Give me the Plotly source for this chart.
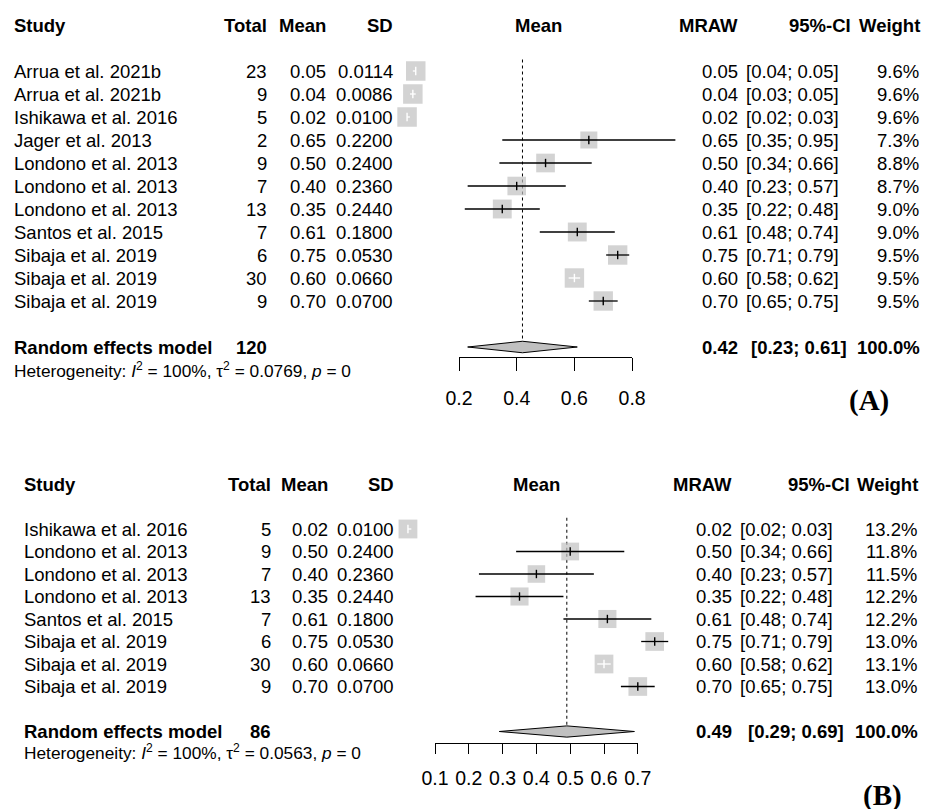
import plotly.graph_objects as go

W, H = 933, 809

# ---------------- data: panel A ----------------
studies_a = ["Arrua et al. 2021b", "Arrua et al. 2021b", "Ishikawa et al. 2016", "Jager et al. 2013",
             "Londono et al. 2013", "Londono et al. 2013", "Londono et al. 2013", "Santos et al. 2015",
             "Sibaja et al. 2019", "Sibaja et al. 2019", "Sibaja et al. 2019"]
total_a = [23, 9, 5, 2, 9, 7, 13, 7, 6, 30, 9]
mean_a = [0.05, 0.04, 0.02, 0.65, 0.50, 0.40, 0.35, 0.61, 0.75, 0.60, 0.70]
sd_a = [0.0114, 0.0086, 0.0100, 0.2200, 0.2400, 0.2360, 0.2440, 0.1800, 0.0530, 0.0660, 0.0700]
lo_a = [0.04, 0.03, 0.02, 0.35, 0.34, 0.23, 0.22, 0.48, 0.71, 0.58, 0.65]
hi_a = [0.05, 0.05, 0.03, 0.95, 0.66, 0.57, 0.48, 0.74, 0.79, 0.62, 0.75]
weight_a = [9.6, 9.6, 9.6, 7.3, 8.8, 8.7, 9.0, 9.0, 9.5, 9.5, 9.5]
summary_a = {"total": 120, "est": 0.42, "lo": 0.23, "hi": 0.61, "w": "100.0%",
             "I2": "100%", "tau2": "0.0769", "p": "0"}
ticks_a = [0.2, 0.4, 0.6, 0.8]

# ---------------- data: panel B ----------------
studies_b = ["Ishikawa et al. 2016", "Londono et al. 2013", "Londono et al. 2013", "Londono et al. 2013",
             "Santos et al. 2015", "Sibaja et al. 2019", "Sibaja et al. 2019", "Sibaja et al. 2019"]
total_b = [5, 9, 7, 13, 7, 6, 30, 9]
mean_b = [0.02, 0.50, 0.40, 0.35, 0.61, 0.75, 0.60, 0.70]
sd_b = [0.0100, 0.2400, 0.2360, 0.2440, 0.1800, 0.0530, 0.0660, 0.0700]
lo_b = [0.02, 0.34, 0.23, 0.22, 0.48, 0.71, 0.58, 0.65]
hi_b = [0.03, 0.66, 0.57, 0.48, 0.74, 0.79, 0.62, 0.75]
weight_b = [13.2, 11.8, 11.5, 12.2, 12.2, 13.0, 13.1, 13.0]
summary_b = {"total": 86, "est": 0.49, "lo": 0.29, "hi": 0.69, "w": "100.0%",
             "I2": "100%", "tau2": "0.0563", "p": "0"}
ticks_b = [0.1, 0.2, 0.3, 0.4, 0.5, 0.6, 0.7]

FONT = "Liberation Sans, Arial, Helvetica, sans-serif"
SERIF = "Liberation Serif, Times New Roman, serif"
BOX = "#C0C0C0"
TXT = "#000000"
FS = 18.5


def px(x):
    return x / W


def py(y):
    return 1 - y / H


fig = go.Figure()
annotations = []

geo_a = dict(xa="x", ya="y", xt="x3", top=0, bottom=404, row0=71, dy=23,
             t0_px=459, scale=288.5, axis_y=357, ticklen=13, standoff=11,
             c_study=12, c_total=269, c_mean=328, c_sd=395, c_plot=538,
             c_mraw=740, c_ci=841, c_ci_s=849, c_ci_h=853, c_w=921, c_w_h=922,
             box_max=19.5, het_dy=0.98, label="(A)", label_xy=(869, 401))
geo_b = dict(xa="x2", ya="y2", xt="x4", top=405, bottom=809, row0=529, dy=22.5,
             t0_px=435, scale=338, axis_y=743, ticklen=10, standoff=8,
             c_study=22, c_total=273, c_mean=330, c_sd=396, c_plot=536,
             c_mraw=734, c_ci=835, c_ci_s=846, c_ci_h=852, c_w=919, c_w_h=920,
             box_max=18.8, het_dy=0.93, label="(B)", label_xy=(882, 795))


def ann(x, y, text, ya, anchor="right", size=FS, family=FONT):
    annotations.append(dict(x=px(x), y=y, xref="paper", yref=ya, text=text, showarrow=False,
                            xanchor=anchor, yanchor="middle", font=dict(family=family, size=size, color=TXT)))


def panel(g, studies, total, mean, sd, lo, hi, weight, summ, ticks):
    xa, ya, xt = g["xa"], g["ya"], g["xt"]
    n = len(studies)
    rows = list(range(n))
    srow = n + 1
    est = summ["est"]
    # dotted line at summary estimate
    fig.add_trace(go.Scatter(x=[est, est], y=[-0.5, srow], mode="lines",
                             line=dict(color="black", width=1, dash="dot"),
                             xaxis=xa, yaxis=ya, hoverinfo="skip", showlegend=False))
    wmax = max(weight)
    sizes = [g["box_max"] * (w / wmax) ** 0.5 for w in weight]
    fig.add_trace(go.Scatter(x=mean, y=rows, mode="markers",
                             marker=dict(symbol="square", size=sizes, color=BOX, line=dict(width=0)),
                             xaxis=xa, yaxis=ya, hoverinfo="skip", showlegend=False))
    inside = [(h - l) * g["scale"] < s for l, h, s in zip(lo, hi, sizes)]
    for col, flag in (("black", False), ("white", True)):
        xs, ys = [], []
        for i in rows:
            if inside[i] == flag:
                xs += [lo[i], hi[i], None]
                ys += [i, i, None]
        fig.add_trace(go.Scatter(x=xs, y=ys, mode="lines", line=dict(color=col, width=1.3),
                                 xaxis=xa, yaxis=ya, hoverinfo="skip", showlegend=False))
    fig.add_trace(go.Scatter(x=mean, y=rows, mode="markers",
                             marker=dict(symbol="line-ns", size=6,
                                         line=dict(color=["white" if f else "black" for f in inside], width=1.4)),
                             xaxis=xa, yaxis=ya, hoverinfo="skip", showlegend=False))
    # diamond
    h = 0.25
    fig.add_trace(go.Scatter(x=[summ["lo"], est, summ["hi"], est, summ["lo"]],
                             y=[srow, srow - h, srow, srow + h, srow], mode="lines", fill="toself",
                             fillcolor=BOX, line=dict(color="black", width=1),
                             xaxis=xa, yaxis=ya, hoverinfo="skip", showlegend=False))
    # invisible trace to carry the tick axis
    fig.add_trace(go.Scatter(x=[ticks[0], ticks[-1]], y=[srow, srow], mode="markers",
                             marker=dict(opacity=0), xaxis=xt, yaxis=ya, hoverinfo="skip", showlegend=False))

    # axes
    d0, d1 = 360, 730
    t0 = ticks[0]
    xr = [t0 + (d0 - g["t0_px"]) / g["scale"], t0 + (d1 - g["t0_px"]) / g["scale"]]
    yr = [(g["bottom"] - g["row0"]) / g["dy"], (g["top"] - g["row0"]) / g["dy"]]
    ax_key = "xaxis" if xa == "x" else "xaxis" + xa[1:]
    ay_key = "yaxis" if ya == "y" else "yaxis" + ya[1:]
    xt_key = "xaxis" + xt[1:]
    t1_px = g["t0_px"] + (ticks[-1] - t0) * g["scale"]
    fig.update_layout(**{
        ax_key: dict(domain=[px(d0), px(d1)], range=xr, visible=False, anchor=ya, fixedrange=True,
                     automargin=False),
        ay_key: dict(domain=[py(g["bottom"]), py(g["top"])], range=yr, visible=False, anchor=xa,
                     fixedrange=True, automargin=False),
        xt_key: dict(domain=[px(g["t0_px"]), px(t1_px)], range=[ticks[0], ticks[-1]], anchor="free",
                     position=py(g["axis_y"]), side="bottom", showline=True, linecolor="black", linewidth=1,
                     ticks="outside", ticklen=g["ticklen"], tickwidth=1, tickcolor="black",
                     tickvals=ticks, ticktext=[f"{t:.1f}" for t in ticks], showgrid=False, zeroline=False,
                     tickfont=dict(family=FONT, size=19.5, color=TXT), ticklabelstandoff=g["standoff"],
                     fixedrange=True, automargin=False),
    })

    # header row
    hr = -2
    ann(g["c_study"], hr, "<b>Study</b>", ya, "left")
    ann(g["c_total"], hr, "<b>Total</b>", ya)
    ann(g["c_mean"], hr, "<b>Mean</b>", ya)
    ann(g["c_sd"], hr, "<b>SD</b>", ya)
    ann(g["c_plot"], hr, "<b>Mean</b>", ya, "center")
    ann(g["c_mraw"], hr, "<b>MRAW</b>", ya)
    ann(g["c_ci_h"], hr, "<b>95%-CI</b>", ya)
    ann(g["c_w_h"], hr, "<b>Weight</b>", ya)
    # study rows
    for i in rows:
        ann(g["c_study"], i, studies[i], ya, "left")
        ann(g["c_total"], i, str(total[i]), ya)
        ann(g["c_mean"], i, f"{mean[i]:.2f}", ya)
        ann(g["c_sd"], i, f"{sd[i]:.4f}", ya)
        ann(g["c_mraw"], i, f"{mean[i]:.2f}", ya)
        ann(g["c_ci"], i, f"[{lo[i]:.2f}; {hi[i]:.2f}]", ya)
        ann(g["c_w"], i, f"{weight[i]:.1f}%", ya)
    # summary row
    ann(g["c_study"], srow, "<b>Random effects model</b>", ya, "left")
    ann(g["c_total"], srow, f"<b>{summ['total']}</b>", ya)
    ann(g["c_mraw"], srow, f"<b>{est:.2f}</b>", ya)
    ann(g["c_ci_s"], srow, f"<b>[{summ['lo']:.2f}; {summ['hi']:.2f}]</b>", ya)
    ann(g["c_w_h"], srow, f"<b>{summ['w']}</b>", ya)
    het = (f"Heterogeneity: <i>I</i><sup>2</sup> = {summ['I2']}, τ<sup>2</sup> = {summ['tau2']}, "
           f"<i>p</i> = {summ['p']}")
    ann(g["c_study"], srow + g["het_dy"], het, ya, "left", size=17.3)
    lx, ly = g["label_xy"]
    annotations.append(dict(x=px(lx), y=py(ly), xref="paper", yref="paper", text=f"<b>{g['label']}</b>",
                            showarrow=False, xanchor="center", yanchor="middle",
                            font=dict(family=SERIF, size=29, color=TXT)))


panel(geo_a, studies_a, total_a, mean_a, sd_a, lo_a, hi_a, weight_a, summary_a, ticks_a)
panel(geo_b, studies_b, total_b, mean_b, sd_b, lo_b, hi_b, weight_b, summary_b, ticks_b)

fig.update_layout(width=W, height=H, autosize=False,
                  margin=dict(l=0, r=0, t=0, b=0, pad=0, autoexpand=False),
                  paper_bgcolor="white", plot_bgcolor="rgba(0,0,0,0)", showlegend=False,
                  annotations=annotations, font=dict(family=FONT, color=TXT))

fig.write_html("out.html", config={"displayModeBar": False},
               post_script="document.body.style.margin='0';document.body.style.overflow='hidden';")
